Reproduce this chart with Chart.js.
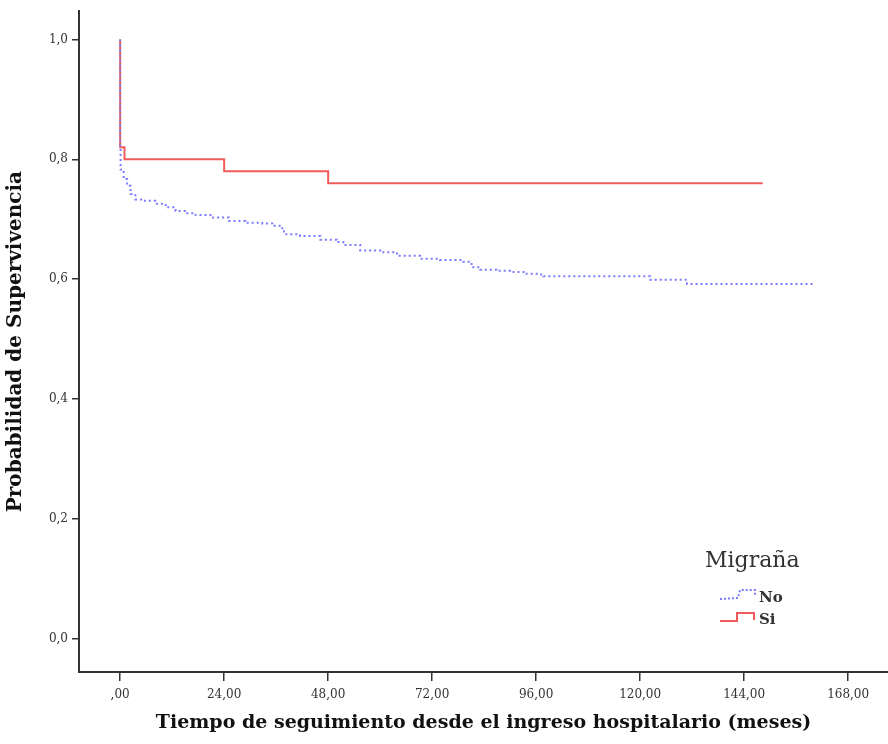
<!DOCTYPE html>
<html>
<head>
<meta charset="utf-8">
<script src="https://cdn.jsdelivr.net/npm/chart.js@4.4.1/dist/chart.umd.min.js"></script>
<style>
  html, body { margin: 0; padding: 0; background: #fff; }
  #wrap { width: 888px; height: 744px; }
</style>
</head>
<body>
<div id="wrap"><canvas id="km"></canvas></div>
<script>
// Kaplan-Meier survival by migraine status (months since admission)
const xTicks = [0, 24, 48, 72, 96, 120, 144, 168];
const xTickLabels = [',00', '24,00', '48,00', '72,00', '96,00', '120,00', '144,00', '168,00'];
const yTicks = [0, 0.2, 0.4, 0.6, 0.8, 1.0];
const yTickLabels = ['0,0', '0,2', '0,4', '0,6', '0,8', '1,0'];

// "No" group (blue, dotted)
const noTime = [0, 0, 0.1, 0.8, 1.6, 2.4, 3.5, 5.1, 8.1, 10.5, 12.8, 15, 17.4, 21.2, 25.1, 28.9, 32.8, 35.1,
  37.4, 37.8, 41.5, 46.2, 50, 51.5, 55.4, 60, 63.9, 69.2, 73.8, 79.2, 81.1, 83.1, 86.9, 90, 93.1, 96.9,
  97.7, 122.3, 130.8, 160.4];
const noSurv = [1.0, 0.82, 0.783, 0.767, 0.756, 0.742, 0.733, 0.731, 0.726, 0.72, 0.714, 0.71, 0.707, 0.703, 0.697, 0.694, 0.693, 0.689,
  0.68, 0.675, 0.672, 0.666, 0.662, 0.657, 0.648, 0.645, 0.639, 0.634, 0.632, 0.629, 0.62, 0.616, 0.614, 0.612, 0.609, 0.608,
  0.605, 0.599, 0.592, 0.592];

// "Si" group (red, solid)
const siTime = [0, 0, 1, 24, 48, 148.3];
const siSurv = [1.0, 0.82, 0.80, 0.78, 0.76, 0.76];

const toPoints = (xs, ys) => xs.map((x, i) => ({ x: x, y: ys[i] }));

const axisColor = '#333333';
const tickFont = { family: 'DejaVu Serif', size: 12 };

// Legend drawn in the lower right of the plot, like the SPSS output
const kmLegend = {
    id: 'kmLegend',
    afterDraw(chart) {
        const ctx = chart.ctx;
        ctx.save();
        ctx.fillStyle = axisColor;
        ctx.textBaseline = 'middle';
        ctx.font = '22px "DejaVu Serif"';
        ctx.fillText('Migraña', 705, 561);

        // No: dotted blue step icon
        ctx.strokeStyle = '#7b7bff';
        ctx.lineWidth = 2;
        ctx.setLineDash([2, 2]);
        ctx.beginPath();
        ctx.moveTo(720, 599);
        ctx.lineTo(738, 598);
        ctx.lineTo(740, 590);
        ctx.lineTo(755, 590);
        ctx.lineTo(755, 595);
        ctx.stroke();

        // Si: solid red step icon
        ctx.strokeStyle = '#f05a5a';
        ctx.setLineDash([]);
        ctx.beginPath();
        ctx.moveTo(720, 621);
        ctx.lineTo(737, 621);
        ctx.lineTo(737, 613);
        ctx.lineTo(754, 613);
        ctx.lineTo(754, 620);
        ctx.stroke();

        ctx.font = 'bold 15px "DejaVu Serif"';
        ctx.fillStyle = axisColor;
        ctx.fillText('No', 759, 598);
        ctx.fillText('Si', 759, 620);
        ctx.restore();
    }
};

new Chart(document.getElementById('km'), {
    type: 'line',
    data: {
        datasets: [
            {
                label: 'No',
                data: toPoints(noTime, noSurv),
                borderColor: '#7b7bff',
                borderWidth: 2,
                borderDash: [2, 3],
                stepped: true,
                pointRadius: 0,
                fill: false
            },
            {
                label: 'Si',
                data: toPoints(siTime, siSurv),
                borderColor: '#f05a5a',
                borderWidth: 2,
                stepped: true,
                pointRadius: 0,
                fill: false
            }
        ]
    },
    options: {
        responsive: true,
        maintainAspectRatio: false,
        animation: false,
        layout: { padding: { top: 8, right: 0, left: 0, bottom: 0 } },
        plugins: {
            legend: { display: false },
            tooltip: { enabled: false }
        },
        scales: {
            x: {
                type: 'linear',
                min: -9.5,
                max: 177.2,
                afterBuildTicks: (scale) => { scale.ticks = xTicks.map(v => ({ value: v })); },
                afterFit: (scale) => { scale.height = 72; },
                ticks: {
                    callback: (v) => xTickLabels[xTicks.indexOf(v)],
                    color: axisColor,
                    font: tickFont,
                    padding: 7,
                    maxRotation: 0,
                    autoSkip: false
                },
                grid: { display: true, drawOnChartArea: false, drawTicks: true, tickLength: 9, color: axisColor, lineWidth: 1.5 },
                border: { display: true, color: axisColor, width: 2 },
                title: {
                    display: true,
                    text: 'Tiempo de seguimiento desde el ingreso hospitalario (meses)',
                    color: '#111',
                    font: { family: 'DejaVu Serif', size: 19, weight: 'bold' },
                    padding: { top: 0, bottom: 10 }
                }
            },
            y: {
                type: 'linear',
                min: -0.055,
                max: 1.047,
                afterBuildTicks: (scale) => { scale.ticks = yTicks.map(v => ({ value: v })); },
                afterFit: (scale) => { scale.width = 79; },
                ticks: {
                    callback: (v) => yTickLabels[yTicks.findIndex(t => Math.abs(t - v) < 1e-6)],
                    color: axisColor,
                    font: tickFont,
                    padding: 4
                },
                grid: { display: true, drawOnChartArea: false, drawTicks: true, tickLength: 7, color: axisColor, lineWidth: 1.5 },
                border: { display: true, color: axisColor, width: 2 },
                title: {
                    display: true,
                    text: 'Probabilidad de Supervivencia',
                    color: '#111',
                    font: { family: 'DejaVu Serif', size: 20, weight: 'bold' },
                    padding: { top: 4, bottom: 0 }
                }
            }
        }
    },
    plugins: [kmLegend]
});
</script>
</body>
</html>
